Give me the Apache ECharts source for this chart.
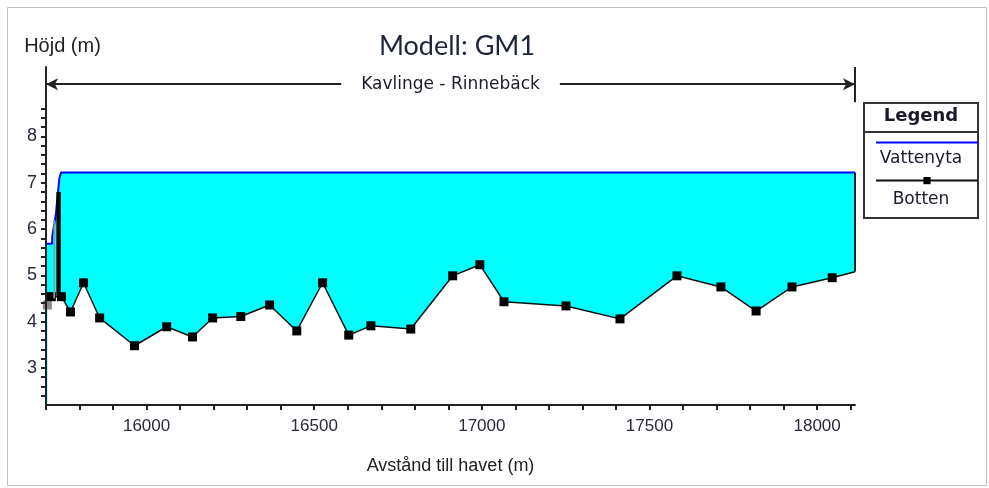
<!DOCTYPE html>
<html><head><meta charset="utf-8">
<script src="https://cdn.jsdelivr.net/npm/echarts@6/dist/echarts.min.js"></script>
<style>html,body{margin:0;padding:0;background:#fff}#c{width:989px;height:488px}</style>
</head><body><div id="c"></div>
<script>
// ---- data ----
const bottomDist = [15704,15716,15746,15773,15812,15860,15964,16060,16137,16197,16281,16367,16448,16525,16603,16669,16788,16913,16994,17066,17251,17412,17582,17713,17818,17925,18045,18113];
const bottomElev = [4.36,4.54,4.54,4.21,4.84,4.08,3.48,3.89,3.67,4.08,4.11,4.36,3.80,4.84,3.71,3.91,3.84,4.99,5.23,4.43,4.34,4.06,4.99,4.75,4.23,4.75,4.95,5.08];
const waterDist = [15700,15718,15719,15730,15733,15740,15745,18113];
const waterElev = [5.68,5.68,5.85,6.35,6.60,7.10,7.22,7.22];
const weirDist = [15731,15744];
const weirElev = [4.54,6.80];
const gateDist = [15722,15727];
const gateElev = [4.50,6.20];
const xTickValues = [15700,15800,15900,16000,16100,16200,16300,16400,16500,16600,16700,16800,16900,17000,17100,17200,17300,17400,17500,17600,17700,17800,17900,18000,18100];
const xLabelValues = [16000,16500,17000,17500,18000];
const yTickValues = [2.4,2.6,2.8,3,3.2,3.4,3.6,3.8,4,4.2,4.4,4.6,4.8,5,5.2,5.4,5.6,5.8,6,6.2,6.4,6.6,6.8,7,7.2,7.4,7.6,7.8,8,8.2,8.4,8.6];
const yLabelValues = [3,4,5,6,7,8];
const xMin = 15700, xMax = 18113, yMin = 2.2, yMax = 9.5;
const reachLabel = 'Kavlinge - Rinnebäck';
const reachLevel = 9.13;

const bottomData = bottomDist.map((d,i)=>{
  const item = {value:[d,bottomElev[i]]};
  if (i===0) item.itemStyle = {color:'#8a8a8a'};
  if (i===bottomDist.length-1) item.symbol = 'none';
  return item;
});
const waterData = waterDist.map((d,i)=>[d,waterElev[i]]);

const chart = echarts.init(document.getElementById('c'), null, {renderer:'canvas'});
const axisCol = '#222';
const txt = '#1a1a2a';
chart.setOption({
  animation:false,
  backgroundColor:'#fff',
  title:{text:'Modell: GM1', left:452, top:28, textAlign:'center',
    textStyle:{fontFamily:'Lato', fontSize:27, fontWeight:'normal', color:'#1c2638'}},
  grid:{left:46, right:134, top:67, bottom:83},
  xAxis:{type:'value', min:xMin, max:xMax, z:10,
    name:'Avstånd till havet (m)', nameLocation:'middle', nameGap:52,
    nameTextStyle:{fontFamily:'Liberation Sans', fontSize:18, color:'#222'},
    axisLine:{lineStyle:{color:axisCol, width:2}},
    axisTick:{show:true, length:5, lineStyle:{color:axisCol, width:2}, customValues:xTickValues},
    axisLabel:{customValues:xLabelValues, margin:13, fontFamily:'Liberation Sans', fontSize:17, color:'#2a2a3a',
      formatter:v=>String(v)},
    splitLine:{show:false}},
  yAxis:{type:'value', min:yMin, max:yMax, z:10,
    name:'Höjd (m)', nameLocation:'end', nameGap:11,
    nameTextStyle:{fontFamily:'Liberation Sans', fontSize:20, color:'#222', align:'center', padding:[0,0,0,33]},
    axisLine:{lineStyle:{color:axisCol, width:2}},
    axisTick:{show:true, length:5, lineStyle:{color:axisCol, width:2}, customValues:yTickValues},
    axisLabel:{customValues:yLabelValues, margin:9, fontFamily:'Liberation Sans', fontSize:18, color:'#2a2a3a',
      formatter:v=>String(v)},
    splitLine:{show:false}},
  legend:{orient:'vertical', left:870, top:133, itemWidth:102, itemHeight:9, itemGap:30,
    formatter:()=>'', selectedMode:false,
    data:[{name:'Vattenyta', itemStyle:{opacity:0}},{name:'Botten'}]},
  graphic:[
    {type:'rect', left:5, top:5, shape:{width:979, height:478}, style:{fill:null, stroke:'#c0c0c0', lineWidth:1}, silent:true, z:-10},
    {type:'rect', x:864, y:103, shape:{width:114, height:115}, style:{fill:'#fff', stroke:'#333', lineWidth:2}, z:-1},
    {type:'line', shape:{x1:864, y1:132, x2:978, y2:132}, style:{stroke:'#333', lineWidth:2}},
    {type:'text', x:921, y:116, style:{text:'Legend', fontFamily:'DejaVu Sans', fontWeight:'bold', fontSize:18, fill:txt, align:'center', verticalAlign:'middle'}},
    {type:'text', x:921, y:159, style:{text:'Vattenyta', fontFamily:'DejaVu Sans', fontSize:17, fill:txt, align:'center', verticalAlign:'middle'}},
    {type:'text', x:921, y:200, style:{text:'Botten', fontFamily:'DejaVu Sans', fontSize:17, fill:txt, align:'center', verticalAlign:'middle'}}
  ],
  series:[
    {name:'Vattenyta', type:'line', data:waterData, symbol:'none', z:2,
      lineStyle:{color:'#0000ff', width:2}, itemStyle:{color:'#0000ff'},
      areaStyle:{color:'#00ffff', opacity:1, origin:'start'},
      markLine:{silent:true, animation:false,
        data:[
          [{coord:[xMin, reachLevel], symbol:'arrow', symbolSize:[9,12]},
           {coord:[xMax, reachLevel], symbol:'arrow', symbolSize:[9,12],
            label:{show:true, position:'middle', distance:0, verticalAlign:'middle', formatter:reachLabel,
              backgroundColor:'#fff', padding:[2,20,2,20],
              fontFamily:'DejaVu Sans', fontSize:17, color:txt}}],
          [{coord:[xMax, 8.74], symbol:'none'},{coord:[xMax, yMax], symbol:'none', label:{show:false}}],
          [{coord:[xMax, bottomElev[bottomElev.length-1]], symbol:'none'},{coord:[xMax, waterElev[waterElev.length-1]], symbol:'none', label:{show:false}}]
        ],
        lineStyle:{color:'#222', width:2, type:'solid'}, label:{show:false}}},
    {name:'Botten', type:'line', data:bottomData, symbol:'rect', symbolSize:9, z:3,
      lineStyle:{color:'#111', width:1.5}, itemStyle:{color:'#000'},
      areaStyle:{color:'#ffffff', opacity:1, origin:'start'},
      markArea:{silent:true, z:5, data:[
        [{coord:[gateDist[0], gateElev[0]], itemStyle:{color:'#999'}},{coord:[gateDist[1], gateElev[1]]}],
        [{coord:[weirDist[0], weirElev[0]], itemStyle:{color:'#000'}},{coord:[weirDist[1], weirElev[1]]}]
      ]}}
  ]
});
</script></body></html>
